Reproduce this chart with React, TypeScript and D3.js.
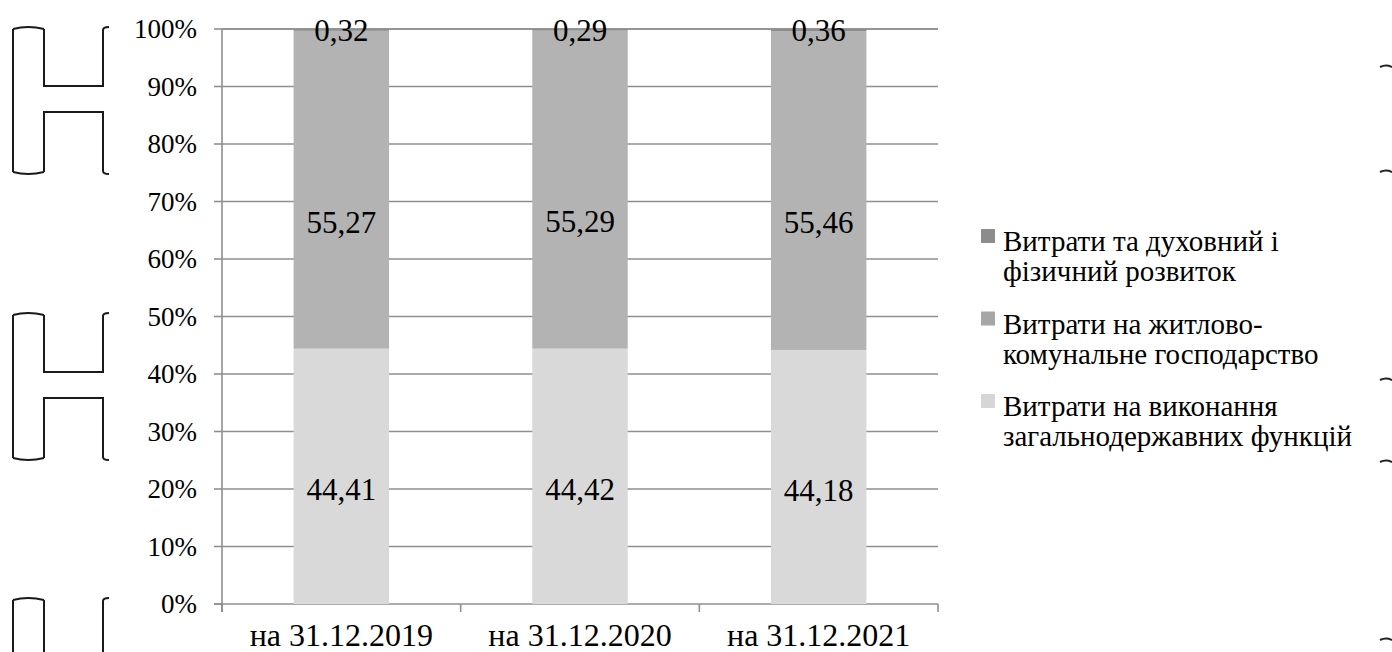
import React from "react";
import * as d3 from "d3";

const categories = ["на 31.12.2019", "на 31.12.2020", "на 31.12.2021"];
const generalFunctions = [44.41, 44.42, 44.18];
const housing = [55.27, 55.29, 55.46];
const spiritual = [0.32, 0.29, 0.36];
const yTicks = [0, 10, 20, 30, 40, 50, 60, 70, 80, 90, 100];
const legendLines = [
  ["Витрати та духовний і", "фізичний розвиток"],
  ["Витрати на житлово-", "комунальне господарство"],
  ["Витрати на виконання", "загальнодержавних функцій"],
];

const colors = ["#d9d9d9", "#b3b3b3", "#8c8c8c"];
const legendColors = ["#8c8c8c", "#a6a6a6", "#d6d6d6"];
const labelFrac = [0.55, 0.6, 0.5];

const W = 1392;
const H = 652;
const left = 222;
const right = 938;
const top = 29;
const bottom = 604;
const ff = "'Liberation Serif', 'Times New Roman', Tinos, FreeSerif, 'Noto Serif CJK SC', serif";

export default function App() {
  const x = d3.scaleBand<string>().domain(categories).range([left, right]).paddingInner(0.6).paddingOuter(0.3);
  const y = d3.scaleLinear().domain([0, 100]).range([bottom, top]);
  const step = x.step();

  const rows = categories.map((c, i) => ({
    cat: c,
    s0: generalFunctions[i],
    s1: housing[i],
    s2: spiritual[i],
  }));
  const stack = d3.stack<any>().keys(["s0", "s1", "s2"]);
  const series = stack(rows);
  const totals = rows.map((r) => r.s0 + r.s1 + r.s2);
  const scale = (v: number, i: number) => (v / totals[i]) * 100;

  const gridColor = "#8f8f8f";

  const bracket = (oy: number, key: number) => (
    <g key={key} transform={`translate(0,${oy})`} fill="none" stroke="#1a1a1a" strokeWidth={2}>
      <path d="M13,29 Q28,25 44,29 M13,172 Q28,176 44,172" />
      <path d="M13,29 L13,172 M44,29 L44,86 L103,86 L103,30 Q103,27 109,27 M44,172 L44,112 L103,112 L103,171 Q103,174 109,174" />
    </g>
  );

  const rightMarks = [67, 172, 380, 462, 640];

  return (
    <div style={{ position: "absolute", left: 0, top: 0, fontFamily: ff }}>
      <style>{`body{font-family:${ff};} svg text{font-family:${ff} !important;}`}</style>
      <svg width={W} height={H} style={{ display: "block", fontFamily: ff }}>
        {[27, 313, 598].map((oy, i) => bracket(oy - 27, i))}
        {rightMarks.map((m, i) => (
          <path key={i} d={`M1380,${m} Q1386,${m - 3} 1392,${m}`} stroke="#222" strokeWidth={2} fill="none" />
        ))}
        {yTicks.map((t) => (
          <line key={t} x1={t === 0 ? left - 8 : left} x2={right} y1={y(t)} y2={y(t)} stroke={gridColor} strokeWidth={1.6} />
        ))}
        {yTicks.map((t) => (
          <line key={"yt" + t} x1={left - 8} x2={left} y1={y(t)} y2={y(t)} stroke={gridColor} strokeWidth={1.6} />
        ))}
        <line x1={left} x2={left} y1={top} y2={bottom + 8} stroke={gridColor} strokeWidth={1.6} />
        {d3.range(categories.length + 1).map((i) => (
          <line key={"xt" + i} x1={left + i * step} x2={left + i * step} y1={bottom} y2={bottom + 8} stroke={gridColor} strokeWidth={1.6} />
        ))}
        {series.map((s, si) => (
          <g key={si}>
            {s.map((d, i) => (
              <rect
                key={i}
                x={x(categories[i])}
                width={x.bandwidth()}
                y={y(scale(d[1], i))}
                height={y(scale(d[0], i)) - y(scale(d[1], i))}
                fill={colors[si]}
              />
            ))}
          </g>
        ))}
        <line x1={left} x2={right} y1={y(100)} y2={y(100)} stroke={gridColor} strokeWidth={1.6} />
        {series.map((s, si) => (
          <g key={"l" + si}>
            {s.map((d, i) => {
              const y0 = y(scale(d[1], i));
              const y1 = y(scale(d[0], i));
              const yy = si === 2 ? y(100) + 1 : y0 + labelFrac[si] * (y1 - y0);
              const vals = [generalFunctions, housing, spiritual][si];
              return (
                <text
                  key={i}
                  x={(x(categories[i]) as number) + x.bandwidth() / 2}
                  y={yy + 11}
                  style={{ fontFamily: ff, fontSize: 31, textAnchor: "middle" }}
                >
                  {vals[i].toFixed(2).replace(".", ",")}
                </text>
              );
            })}
          </g>
        ))}
        {yTicks.map((t) => (
          <text key={"yl" + t} x={left - 25} y={y(t) + 9} style={{ fontFamily: ff, fontSize: 27, textAnchor: "end" }}>
            {t + "%"}
          </text>
        ))}
        {categories.map((c) => (
          <text key={c} x={(x(c) as number) + x.bandwidth() / 2} y={646} style={{ fontFamily: ff, fontSize: 32, textAnchor: "middle" }}>
            {c}
          </text>
        ))}
        {legendLines.map((lines, i) => {
          const base = 251 + i * 82.5;
          return (
            <g key={"lg" + i}>
              <rect x={981} y={base - 22} width={14} height={14} fill={legendColors[i]} />
              {lines.map((ln, j) => (
                <text key={j} x={1003} y={base + j * 30} style={{ fontFamily: ff, fontSize: 29 }}>
                  {ln}
                </text>
              ))}
            </g>
          );
        })}
      </svg>
    </div>
  );
}
